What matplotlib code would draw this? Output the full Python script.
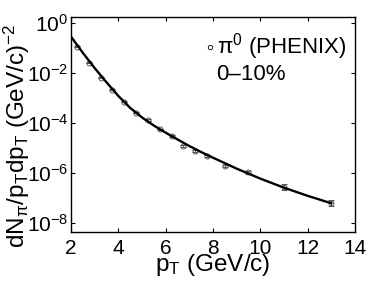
import matplotlib
matplotlib.use("Agg")
from matplotlib import pyplot as plt
from matplotlib.ticker import LogLocator, NullLocator
import numpy as np

plt.rcParams["font.family"] = ["Liberation Sans", "DejaVu Sans"]
plt.rcParams["mathtext.fontset"] = "custom"
plt.rcParams["mathtext.rm"] = "Liberation Sans"
plt.rcParams["mathtext.it"] = "Liberation Sans"
plt.rcParams["mathtext.default"] = "regular"

# PHENIX pi0, 0-10% central
pt = np.array([2.25, 2.75, 3.25, 3.75, 4.25, 4.75, 5.25, 5.75, 6.25, 6.75,
               7.25, 7.75, 8.5, 9.5, 11.0, 13.0])
yield_pi0 = np.array([1.1e-1, 2.6e-2, 6.5e-3, 2.1e-3, 7.1e-4, 2.6e-4, 1.3e-4,
                      5.6e-5, 3.0e-5, 1.2e-5, 7.8e-6, 4.8e-6, 1.95e-6, 1.07e-6,
                      2.8e-7, 6.5e-8])
rel_err = np.array([0.05, 0.05, 0.05, 0.05, 0.05, 0.05, 0.06, 0.06, 0.07, 0.08,
                    0.09, 0.10, 0.12, 0.15, 0.28, 0.25])

# model curve
pt_curve = np.array([2.0, 2.5, 3.0, 3.5, 4.0, 4.5, 5.0, 5.5, 6.0, 6.5, 7.0,
                     7.5, 8.0, 9.0, 10.0, 11.0, 12.0, 13.0])
curve = np.array([2.8e-1, 6.3e-2, 1.55e-2, 4.2e-3, 1.2e-3, 4.0e-4, 1.66e-4,
                  7.9e-5, 4.1e-5, 2.2e-5, 1.2e-5, 6.9e-6, 4.1e-6, 1.5e-6,
                  6.0e-7, 2.6e-7, 1.23e-7, 6.2e-8])

fig = plt.figure(figsize=(3.74, 2.81), dpi=100)
ax = fig.add_axes([0.19, 0.174, 0.759, 0.766])

ax.plot(pt_curve, curve, color="black", linewidth=1.7, zorder=3)
ax.errorbar(pt, yield_pi0, yerr=rel_err * yield_pi0, fmt="o", ms=3.6,
            mfc="none", mec="#555555", mew=0.7, ecolor="#555555",
            elinewidth=0.7, capsize=2, capthick=0.7, zorder=2)

ax.set_yscale("log")
ax.set_xlim(2, 14)
ax.set_ylim(10**-8.36, 10**0.24)
ax.set_xticks([2, 4, 6, 8, 10, 12, 14])
ax.yaxis.set_major_locator(LogLocator(base=100.0, numticks=10))
ax.yaxis.set_minor_locator(NullLocator())
ax.tick_params(direction="in", top=True, right=True, labelsize=15,
               length=3, width=0.8, pad=2)
ax.tick_params(axis="x", pad=5)
for s in ax.spines.values():
    s.set_linewidth(1.0)

ax.set_xlabel("p$_T$ (GeV/c)", fontsize=17.5, labelpad=-4)
ax.set_ylabel("dN$_\\pi$/p$_T$dp$_T$ (GeV/c)$^{-2}$", fontsize=17.5)
ax.yaxis.label.set_rotation_mode("default")
ax.yaxis.label.set_va("center")
ax.yaxis.set_label_coords(-0.19, 0.445)

ax.plot([0.491], [0.86], "o", ms=3.2, mfc="none", mec="black", mew=0.6,
        transform=ax.transAxes, clip_on=False)
ax.text(0.515, 0.86, "$\\pi^0$ (PHENIX)", transform=ax.transAxes,
        fontsize=16, va="center", ha="left")
ax.text(0.51, 0.73, "0–10%", transform=ax.transAxes,
        fontsize=16, va="center", ha="left")

plt.savefig("out.png", dpi=100)
